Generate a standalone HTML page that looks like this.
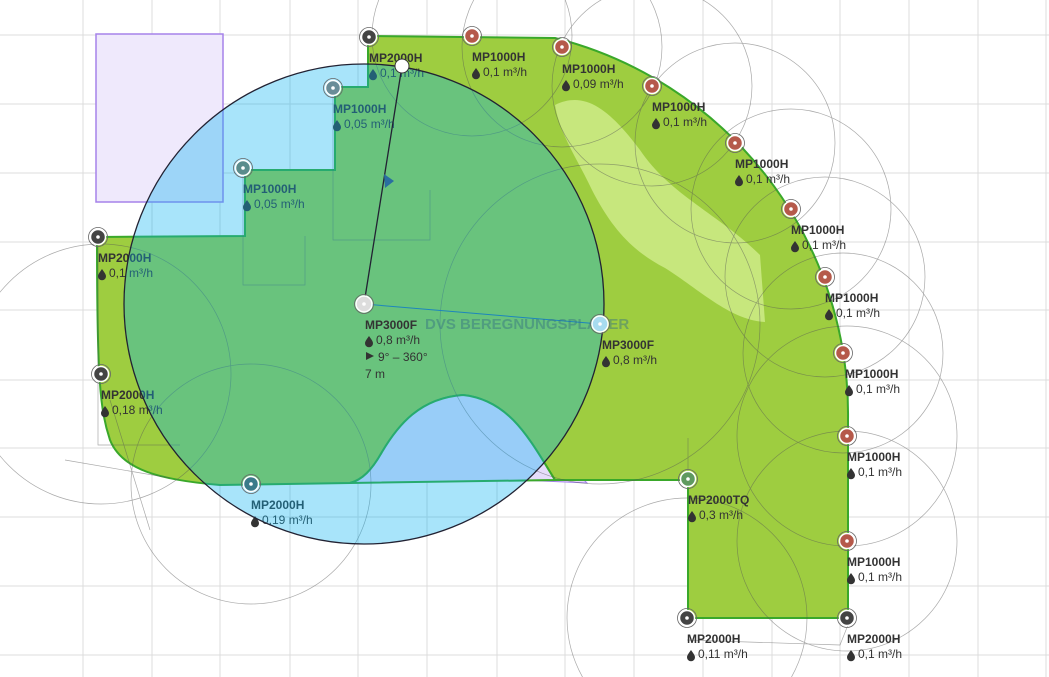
<!DOCTYPE html>
<html><head><meta charset="utf-8"><style>
html,body{margin:0;padding:0;background:#fff;overflow:hidden;width:1049px;height:677px;}
svg{display:block;}
text{font-family:"Liberation Sans",sans-serif;font-size:12px;fill:#333;}
.n{font-weight:bold;}
</style></head><body>
<svg width="1049" height="677" viewBox="0 0 1049 677" xmlns="http://www.w3.org/2000/svg">
<defs>
<g id="drop"><path d="M0,-5 C2.5,-1.5 4,0.5 4,2.3 A4,4 0 0 1 -4,2.3 C-4,0.5 -2.5,-1.5 0,-5Z" fill="#333"/></g>
</defs>
<g stroke="#dcdcdc" stroke-width="1">
<line x1="83" y1="0" x2="83" y2="677"/><line x1="152" y1="0" x2="152" y2="677"/><line x1="220" y1="0" x2="220" y2="677"/><line x1="290" y1="0" x2="290" y2="677"/><line x1="358" y1="0" x2="358" y2="677"/><line x1="427" y1="0" x2="427" y2="677"/><line x1="497" y1="0" x2="497" y2="677"/><line x1="565" y1="0" x2="565" y2="677"/><line x1="634" y1="0" x2="634" y2="677"/><line x1="703" y1="0" x2="703" y2="677"/><line x1="772" y1="0" x2="772" y2="677"/><line x1="840" y1="0" x2="840" y2="677"/><line x1="909" y1="0" x2="909" y2="677"/><line x1="978" y1="0" x2="978" y2="677"/><line x1="1046" y1="0" x2="1046" y2="677"/>
<line x1="0" y1="35" x2="1049" y2="35"/><line x1="0" y1="104" x2="1049" y2="104"/><line x1="0" y1="173" x2="1049" y2="173"/><line x1="0" y1="242" x2="1049" y2="242"/><line x1="0" y1="310" x2="1049" y2="310"/><line x1="0" y1="380" x2="1049" y2="380"/><line x1="0" y1="448" x2="1049" y2="448"/><line x1="0" y1="517" x2="1049" y2="517"/><line x1="0" y1="586" x2="1049" y2="586"/><line x1="0" y1="655" x2="1049" y2="655"/>
</g>
<rect x="96" y="34" width="127" height="168" fill="#efe9fc" stroke="#a582ea" stroke-width="1.5"/>
<path d="M520,480 L555,452 L587,483 Z" fill="#e4d6fb" stroke="#a582ea" stroke-width="1"/>
<path d="M368,36 L555,38 A388,388 0 0 1 848,420 L848,618 L688,618 L688,480 L555,480 C530,440 510,400 463,395 C420,398 398,425 382,452 C372,470 362,480 350,483 L220,485 C160,480 122,470 110,440 C100,410 97,380 97,237 L245,236 L245,170 L335,170 L335,87 L368,87 Z" fill="#9ecd40" stroke="#3aa82a" stroke-width="2"/>
<path d="M555,105 C585,90 610,110 640,150 C670,195 720,215 760,255 L765,322 C730,320 700,290 665,268 C630,250 610,225 592,190 C578,160 560,135 555,105 Z" fill="#c7e77d"/>
<path d="M350,483 C362,480 372,470 382,452 C398,425 420,398 463,395 C510,400 530,440 555,480 Z" fill="#e6dcfc" stroke="#3aa82a" stroke-width="2"/>
<g fill="none" stroke="#555" stroke-width="0.7" opacity="0.5">
<circle cx="472" cy="36" r="100"/><circle cx="562" cy="47" r="100"/><circle cx="652" cy="86" r="100"/><circle cx="735" cy="143" r="100"/><circle cx="791" cy="209" r="100"/><circle cx="825" cy="277" r="100"/><circle cx="843" cy="353" r="100"/><circle cx="847" cy="436" r="110"/><circle cx="847" cy="541" r="110"/>
<circle cx="600" cy="324" r="160"/><circle cx="687" cy="618" r="120"/><circle cx="101" cy="374" r="130"/><circle cx="251" cy="484" r="120"/>
<path d="M98,237 L98,445 L180,445"/><path d="M65,460 L170,478 M150,530 L110,400"/><path d="M243,168 L243,285 L305,285 L305,236"/><path d="M333,88 L333,240 L430,240 L430,190"/><path d="M688,438 L688,480 M687,640 L840,645 L848,625"/>
</g>
<line x1="364" y1="304" x2="600" y2="324" stroke="#2a6ea0" stroke-width="1"/>
<g>
<use href="#drop" x="373" y="74"/><text x="369" y="62" class="n">MP2000H</text><text x="380" y="77">0,1 m³/h</text>
<use href="#drop" x="337" y="125"/><text x="333" y="113" class="n">MP1000H</text><text x="344" y="128">0,05 m³/h</text>
<use href="#drop" x="247" y="205"/><text x="243" y="193" class="n">MP1000H</text><text x="254" y="208">0,05 m³/h</text>
<use href="#drop" x="102" y="274"/><text x="98" y="262" class="n">MP2000H</text><text x="109" y="277">0,1 m³/h</text>
<use href="#drop" x="105" y="411"/><text x="101" y="399" class="n">MP2000H</text><text x="112" y="414">0,18 m³/h</text>
<use href="#drop" x="255" y="521"/><text x="251" y="509" class="n">MP2000H</text><text x="262" y="524">0,19 m³/h</text>
</g>
<circle cx="364" cy="304" r="240" fill="rgba(5,177,240,0.35)" stroke="#223" stroke-width="1.3"/>
<line x1="364" y1="304" x2="402" y2="66" stroke="#223" stroke-width="1.3"/>
<path d="M384,174 L394,181 L385,188 Z" fill="#2a6ea0"/>
<text x="425" y="329" style="font-size:15px;font-weight:bold;fill:rgba(50,110,130,0.45)">DVS BEREGNUNGSPLANER</text>
<g>
<use href="#drop" x="476" y="73"/><text x="472" y="61" class="n">MP1000H</text><text x="483" y="76">0,1 m³/h</text>
<use href="#drop" x="566" y="85"/><text x="562" y="73" class="n">MP1000H</text><text x="573" y="88">0,09 m³/h</text>
<use href="#drop" x="656" y="123"/><text x="652" y="111" class="n">MP1000H</text><text x="663" y="126">0,1 m³/h</text>
<use href="#drop" x="739" y="180"/><text x="735" y="168" class="n">MP1000H</text><text x="746" y="183">0,1 m³/h</text>
<use href="#drop" x="795" y="246"/><text x="791" y="234" class="n">MP1000H</text><text x="802" y="249">0,1 m³/h</text>
<use href="#drop" x="829" y="314"/><text x="825" y="302" class="n">MP1000H</text><text x="836" y="317">0,1 m³/h</text>
<use href="#drop" x="849" y="390"/><text x="845" y="378" class="n">MP1000H</text><text x="856" y="393">0,1 m³/h</text>
<use href="#drop" x="851" y="473"/><text x="847" y="461" class="n">MP1000H</text><text x="858" y="476">0,1 m³/h</text>
<use href="#drop" x="851" y="578"/><text x="847" y="566" class="n">MP1000H</text><text x="858" y="581">0,1 m³/h</text>
<use href="#drop" x="851" y="655"/><text x="847" y="643" class="n">MP2000H</text><text x="858" y="658">0,1 m³/h</text>
<use href="#drop" x="691" y="655"/><text x="687" y="643" class="n">MP2000H</text><text x="698" y="658">0,11 m³/h</text>
<use href="#drop" x="692" y="516"/><text x="688" y="504" class="n">MP2000TQ</text><text x="699" y="519">0,3 m³/h</text>
<use href="#drop" x="606" y="361"/><text x="602" y="349" class="n">MP3000F</text><text x="613" y="364">0,8 m³/h</text>
<use href="#drop" x="369" y="341"/><text x="365" y="329" class="n">MP3000F</text><text x="376" y="344">0,8 m³/h</text>
<path d="M366,352 L374,356 L366,360 Z" fill="#333"/><text x="378" y="361">9° – 360°</text>
<text x="365" y="378">7 m</text>
</g>
<g stroke="#fff" stroke-width="1.5">
<g fill="#444"><circle cx="369" cy="37" r="7.5"/><circle cx="98" cy="237" r="7.5"/><circle cx="101" cy="374" r="7.5"/><circle cx="687" cy="618" r="7.5"/><circle cx="847" cy="618" r="7.5"/></g>
<g fill="#b5594a"><circle cx="472" cy="36" r="7.5"/><circle cx="562" cy="47" r="7.5"/><circle cx="652" cy="86" r="7.5"/><circle cx="735" cy="143" r="7.5"/><circle cx="791" cy="209" r="7.5"/><circle cx="825" cy="277" r="7.5"/><circle cx="843" cy="353" r="7.5"/><circle cx="847" cy="436" r="7.5"/><circle cx="847" cy="541" r="7.5"/></g>
<circle cx="333" cy="88" r="7.5" fill="#6a8d98"/><circle cx="243" cy="168" r="7.5" fill="#5a8c8c"/><circle cx="251" cy="484" r="7.5" fill="#3a7a8a"/>
<circle cx="688" cy="479" r="7.5" fill="#5f9a5f"/>
<circle cx="600" cy="324" r="8" fill="#a8dcf0"/>
<circle cx="364" cy="304" r="8" fill="#ddd"/>
<circle cx="402" cy="66" r="7" fill="#fff" stroke="#333" stroke-width="1"/>
</g>
<g fill="none" stroke="#666" stroke-width="0.8">
<circle cx="369" cy="37" r="9.5"/><circle cx="98" cy="237" r="9.5"/><circle cx="101" cy="374" r="9.5"/><circle cx="687" cy="618" r="9.5"/><circle cx="847" cy="618" r="9.5"/>
<circle cx="472" cy="36" r="9.5"/><circle cx="562" cy="47" r="9.5"/><circle cx="652" cy="86" r="9.5"/><circle cx="735" cy="143" r="9.5"/><circle cx="791" cy="209" r="9.5"/><circle cx="825" cy="277" r="9.5"/><circle cx="843" cy="353" r="9.5"/><circle cx="847" cy="436" r="9.5"/><circle cx="847" cy="541" r="9.5"/>
<circle cx="333" cy="88" r="9.5"/><circle cx="243" cy="168" r="9.5"/><circle cx="251" cy="484" r="9.5"/><circle cx="688" cy="479" r="9.5"/><circle cx="600" cy="324" r="9.5"/><circle cx="364" cy="304" r="9.5"/>
</g>
<g fill="#fff">
<circle cx="369" cy="37" r="1.8"/><circle cx="98" cy="237" r="1.8"/><circle cx="101" cy="374" r="1.8"/><circle cx="687" cy="618" r="1.8"/><circle cx="847" cy="618" r="1.8"/>
<circle cx="472" cy="36" r="1.8"/><circle cx="562" cy="47" r="1.8"/><circle cx="652" cy="86" r="1.8"/><circle cx="735" cy="143" r="1.8"/><circle cx="791" cy="209" r="1.8"/><circle cx="825" cy="277" r="1.8"/><circle cx="843" cy="353" r="1.8"/><circle cx="847" cy="436" r="1.8"/><circle cx="847" cy="541" r="1.8"/>
<circle cx="333" cy="88" r="1.8"/><circle cx="243" cy="168" r="1.8"/><circle cx="251" cy="484" r="1.8"/><circle cx="688" cy="479" r="1.8"/><circle cx="600" cy="324" r="1.8"/><circle cx="364" cy="304" r="1.8"/>
</g>
</svg>
</body></html>
